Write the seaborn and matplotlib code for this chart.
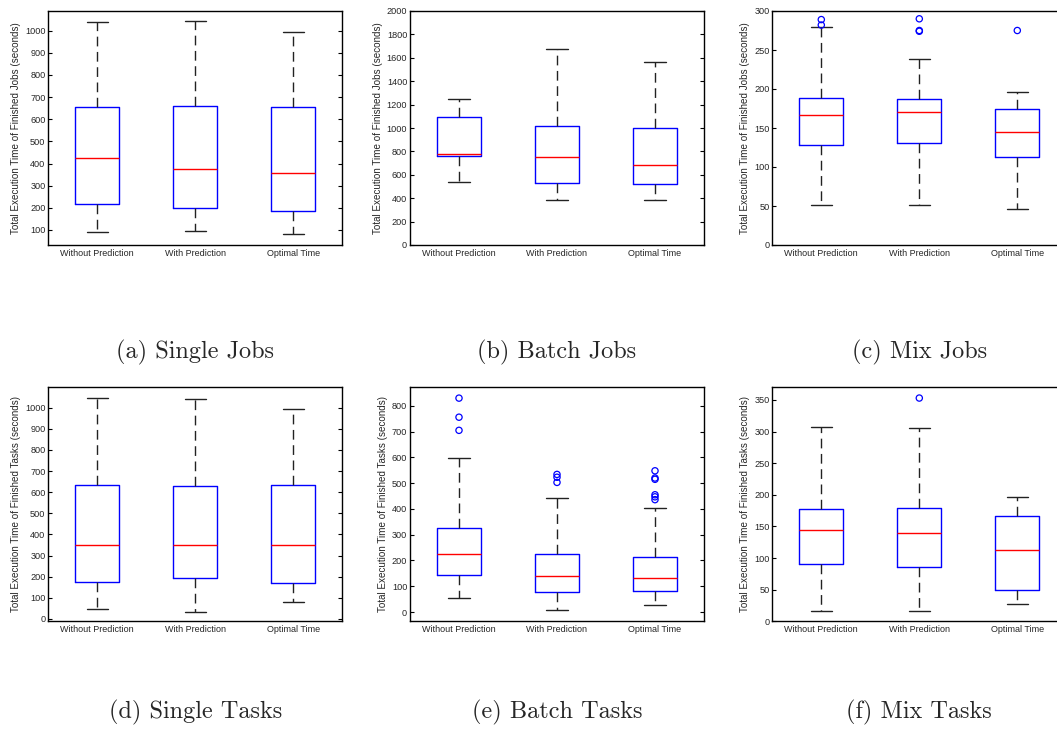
import pandas as pd
import seaborn as sns
import matplotlib.pyplot as plt

# box values: [lower whisker, q1, median, q3, upper whisker]
groups = ["Without Prediction", "With Prediction", "Optimal Time"]

single_jobs = [[90, 216, 424, 655, 1039], [97, 199, 375, 660, 1042], [83, 184, 356, 654, 996]]
batch_jobs = [[541, 761, 781, 1091, 1251], [385, 527, 749, 1020, 1675], [385, 524, 687, 1000, 1561]]
mix_jobs = [[51, 128, 167, 189, 280], [51, 131, 170, 187, 239], [46, 113, 145, 175, 196]]
single_tasks = [[46, 174, 350, 634, 1044], [35, 193, 351, 628, 1040], [81, 172, 350, 636, 995]]
batch_tasks = [[54, 143, 224, 327, 599], [9, 78, 141, 224, 442], [26, 81, 131, 212, 405]]
mix_tasks = [[17, 90, 145, 178, 308], [16, 86, 140, 179, 305], [27, 49, 113, 166, 196]]

# outliers
mix_jobs_out = [[289, 282], [290, 275, 274], [275]]
batch_tasks_out = [[830, 756, 705], [534, 523, 503], [548, 520, 515, 455, 447, 436]]
mix_tasks_out = [[], [353], []]
no_out = [[], [], []]

panels = [
    ("(a) Single Jobs", single_jobs, no_out, "Jobs", (32, 1089), range(100, 1001, 100)),
    ("(b) Batch Jobs", batch_jobs, no_out, "Jobs", (0, 2000), range(0, 2001, 200)),
    ("(c) Mix Jobs", mix_jobs, mix_jobs_out, "Jobs", (0, 300), range(0, 301, 50)),
    ("(d) Single Tasks", single_tasks, no_out, "Tasks", (-11, 1096), range(0, 1001, 100)),
    ("(e) Batch Tasks", batch_tasks, batch_tasks_out, "Tasks", (-36, 872), range(0, 801, 100)),
    ("(f) Mix Tasks", mix_tasks, mix_tasks_out, "Tasks", (0, 370), range(0, 351, 50)),
]

sns.set_style("white")
plt.rcParams["font.family"] = ["Liberation Sans", "DejaVu Sans"]

W, H = 1057, 734
fig = plt.figure(figsize=(W / 100, H / 100), dpi=100)

lefts = [48.3, 410, 772.3]
tops = [11, 387.3]
caption_y = [352, 712]
aw, ah = 294, 234

for i, (caption, stats, outs, kind, ylim, ticks) in enumerate(panels):
    r, c = divmod(i, 3)
    x0, y0 = lefts[c], tops[r]
    ax = fig.add_axes([x0 / W, 1 - (y0 + ah) / H, aw / W, ah / H])

    box_df = pd.DataFrame({
        "group": [g for g, s in zip(groups, stats) for _ in s],
        "value": [v for s in stats for v in s],
    })
    out_df = pd.DataFrame({
        "group": [g for g, o in zip(groups, outs) for _ in o],
        "value": [v for o in outs for v in o],
    })

    sns.boxplot(data=box_df, x="group", y="value", order=groups, ax=ax,
                whis=(0, 100), width=0.45, fill=False, color="blue",
                linewidth=1.0,
                boxprops=dict(color="blue"),
                medianprops=dict(color="red"),
                whiskerprops=dict(color="#222222", linestyle=(0, (7, 4))),
                capprops=dict(color="#222222"),
                capwidths=0.22)
    if len(out_df):
        sns.stripplot(data=out_df, x="group", y="value", order=groups, ax=ax,
                      jitter=False, color="blue", facecolor="none",
                      edgecolor="blue", linewidth=0.9, size=4.5)

    ax.set_xlim(-0.5, 2.5)
    ax.set_ylim(*ylim)
    ax.set_yticks(list(ticks))
    ax.set_xlabel("")
    ax.set_ylabel(f"Total Execution Time of Finished {kind} (seconds)", fontsize=7.1, labelpad=3)
    ax.tick_params(axis="y", direction="in", left=True, right=True, length=3,
                   labelsize=6.6, pad=2, color="black")
    ax.tick_params(axis="x", length=0, labelsize=6.5, pad=3)
    for sp in ax.spines.values():
        sp.set_color("black")
        sp.set_linewidth(1.0)

    fig.text((x0 + aw / 2) / W, 1 - caption_y[r] / H, caption,
             family="cmr10", fontsize=17.5, ha="center", va="center")

fig.savefig("out.png", dpi=100)
